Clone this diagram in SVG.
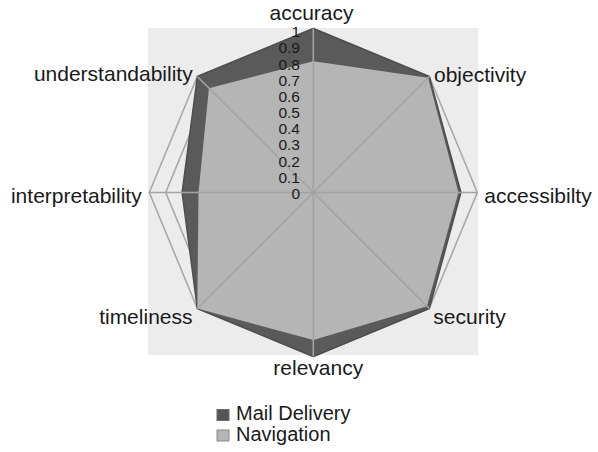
<svg xmlns="http://www.w3.org/2000/svg" width="598" height="452" viewBox="0 0 598 452">
<style>
.lbl{font-family:"Liberation Sans",Arial,sans-serif;font-size:21px;fill:#1a1a1a}
.tick{font-family:"Liberation Sans",Arial,sans-serif;font-size:15.5px;fill:#1a1a1a;text-anchor:end}
.grid{fill:none;stroke:#a8a8a8;stroke-width:1.6}
.spoke{stroke:#a3a3a3;stroke-width:1.6}
.leg{font-family:"Liberation Sans",Arial,sans-serif;font-size:20px;fill:#1a1a1a}
</style>
<rect x="148" y="28" width="330.3" height="327" fill="#ececec"/>
<g id="gridlines">
<polygon class="grid" points="313.3,28.5 429.27,76.53 477.3,192.5 429.27,308.47 313.3,356.5 197.33,308.47 149.3,192.5 197.33,76.53"/>
<polygon class="grid" points="313.3,44.9 417.67,88.13 460.9,192.5 417.67,296.87 313.3,340.1 208.93,296.87 165.7,192.5 208.93,88.13"/>
</g>
<g id="series-mail-delivery">
<polygon points="313.3,28.5 429.27,76.53 460.9,192.5 429.27,308.47 313.3,356.5 197.33,308.47 182.1,192.5 197.33,76.53" fill="#5a5a5a" stroke="#4e4e4e" stroke-width="1.5" stroke-linejoin="round"/>
</g>
<g id="series-navigation">
<polygon points="313.3,61.3 428.11,77.69 458.44,192.5 426.95,306.15 313.3,340.1 197.33,308.47 198.5,192.5 208.93,88.13" fill="#b5b5b5"/>
</g>
<g id="connectors">
<line class="spoke" x1="313.3" y1="192.5" x2="313.3" y2="28.5"/>
<line class="spoke" x1="313.3" y1="192.5" x2="429.27" y2="76.53"/>
<line class="spoke" x1="313.3" y1="192.5" x2="477.3" y2="192.5"/>
<line class="spoke" x1="313.3" y1="192.5" x2="429.27" y2="308.47"/>
<line class="spoke" x1="313.3" y1="192.5" x2="313.3" y2="356.5"/>
<line class="spoke" x1="313.3" y1="192.5" x2="197.33" y2="308.47"/>
<line class="spoke" x1="313.3" y1="192.5" x2="149.3" y2="192.5"/>
<line class="spoke" x1="313.3" y1="192.5" x2="197.33" y2="76.53"/>
</g>
<g id="axis-ticks">
<text class="tick" x="300" y="37.3">1</text>
<text class="tick" x="300" y="53.45">0.9</text>
<text class="tick" x="300" y="69.6">0.8</text>
<text class="tick" x="300" y="85.75">0.7</text>
<text class="tick" x="300" y="101.9">0.6</text>
<text class="tick" x="300" y="118.05">0.5</text>
<text class="tick" x="300" y="134.2">0.4</text>
<text class="tick" x="300" y="150.35">0.3</text>
<text class="tick" x="300" y="166.5">0.2</text>
<text class="tick" x="300" y="182.65">0.1</text>
<text class="tick" x="300" y="198.8">0</text>
</g>
<g id="node-accuracy"><text class="lbl" x="311.5" y="20" text-anchor="middle">accuracy</text></g>
<g id="node-objectivity"><text class="lbl" x="434" y="81.7">objectivity</text></g>
<g id="node-accessibilty"><text class="lbl" x="484.3" y="202.7">accessibilty</text></g>
<g id="node-security"><text class="lbl" x="433.3" y="323.5">security</text></g>
<g id="node-relevancy"><text class="lbl" x="318.3" y="375" text-anchor="middle">relevancy</text></g>
<g id="node-timeliness"><text class="lbl" x="192.5" y="323.8" text-anchor="end">timeliness</text></g>
<g id="node-interpretability"><text class="lbl" x="141.7" y="203.3" text-anchor="end">interpretability</text></g>
<g id="node-understandability"><text class="lbl" x="192.7" y="80.7" text-anchor="end">understandability</text></g>
<g id="legend">
<rect x="217" y="409.5" width="12" height="11" fill="#555" stroke="#6a6a6a" stroke-width="1"/>
<text class="leg" x="236" y="419.5">Mail Delivery</text>
<rect x="217" y="430" width="12" height="11" fill="#b5b5b5" stroke="#8a8a8a" stroke-width="1"/>
<text class="leg" x="236" y="441">Navigation</text>
</g>
</svg>
